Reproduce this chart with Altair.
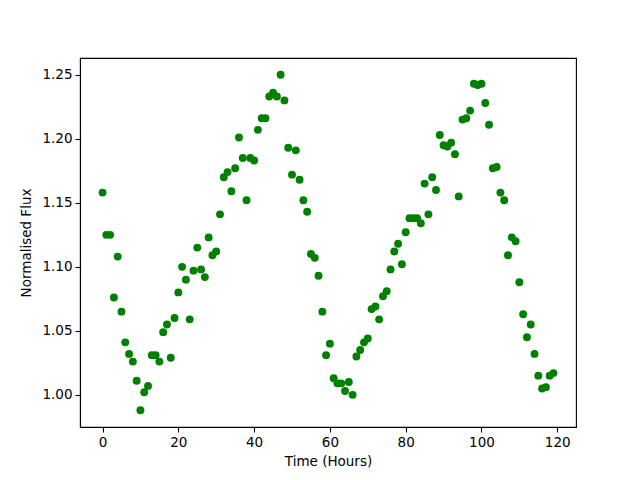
import altair as alt
import pandas as pd

hours = list(range(120))
flux = [
    1.158, 1.125, 1.125, 1.076, 1.108, 1.065, 1.041, 1.032, 1.026, 1.011,
    0.988, 1.002, 1.007, 1.031, 1.031, 1.026, 1.049, 1.055, 1.029, 1.060,
    1.080, 1.100, 1.090, 1.059, 1.097, 1.115, 1.098, 1.092, 1.123, 1.109,
    1.112, 1.141, 1.170, 1.174, 1.159, 1.177, 1.201, 1.185, 1.152, 1.185,
    1.183, 1.207, 1.216, 1.216, 1.233, 1.236, 1.233, 1.250, 1.230, 1.193,
    1.172, 1.191, 1.168, 1.152, 1.143, 1.110, 1.107, 1.093, 1.065, 1.031,
    1.040, 1.013, 1.009, 1.009, 1.003, 1.010, 1.000, 1.030, 1.035, 1.041,
    1.044, 1.067, 1.069, 1.059, 1.077, 1.081, 1.098, 1.112, 1.118, 1.102,
    1.127, 1.138, 1.138, 1.138, 1.134, 1.165, 1.141, 1.170, 1.160, 1.203,
    1.195, 1.194, 1.197, 1.188, 1.155, 1.215, 1.216, 1.222, 1.243, 1.242,
    1.243, 1.228, 1.211, 1.177, 1.178, 1.158, 1.152, 1.109, 1.123, 1.120,
    1.088, 1.063, 1.045, 1.055, 1.032, 1.015, 1.005, 1.006, 1.015, 1.017,
]
x_ticks = [0, 20, 40, 60, 80, 100, 120]
y_ticks = [1.00, 1.05, 1.10, 1.15, 1.20, 1.25]

df = pd.DataFrame({"t": hours, "f": flux})

font = "DejaVu Sans"

chart = alt.Chart(df).mark_circle(size=62, color="#008000", opacity=1).encode(
    x=alt.X("t:Q", title="Time (Hours)",
            scale=alt.Scale(domain=[-5.95, 124.95], nice=False, zero=False),
            axis=alt.Axis(values=x_ticks, format="d", grid=False, tickSize=5,
                          labelPadding=3, titlePadding=6)),
    y=alt.Y("f:Q", title="Normalised Flux",
            scale=alt.Scale(domain=[0.9749, 1.2631], nice=False, zero=False),
            axis=alt.Axis(values=y_ticks, format=".2f", grid=False, tickSize=5,
                          labelPadding=3, titlePadding=8)),
).properties(
    width=496, height=369,
    autosize=alt.AutoSizeParams(type="none"),
    padding={"left": 72, "top": 50, "right": 56, "bottom": 45},
).configure_view(
    stroke="black", strokeWidth=1.1
).configure_axis(
    domainColor="black", domainWidth=1.1, tickColor="black", tickWidth=1.1,
    labelFont=font, labelFontSize=13.5, labelColor="black",
    titleFont=font, titleFontSize=13.5, titleColor="black", titleFontWeight="normal",
)

chart.save("out.html", embed_options={"renderer": "svg", "actions": False})
